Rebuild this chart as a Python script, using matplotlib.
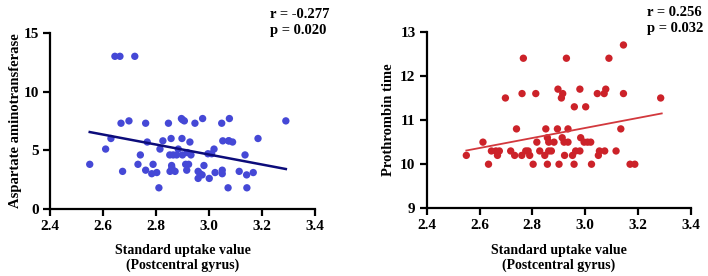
import numpy as np
import matplotlib.pyplot as plt

plt.rcParams['font.family'] = ['Liberation Serif', 'DejaVu Serif']
plt.rcParams['font.weight'] = 'bold'

# left panel: SUV vs aspartate aminotransferase
ast_x = [2.55, 2.61, 2.63, 2.645, 2.664, 2.668, 2.674, 2.698, 2.72, 2.732, 2.741,
         2.761, 2.761, 2.767, 2.784, 2.789, 2.803, 2.811, 2.815, 2.826, 2.847, 2.852,
         2.857, 2.859, 2.853, 2.865, 2.872, 2.878, 2.884, 2.896, 2.898, 2.90, 2.907,
         2.912, 2.916, 2.918, 2.923, 2.928, 2.932, 2.947, 2.959, 2.959, 2.966, 2.976,
         2.981, 2.974, 2.996, 3.001, 3.01, 3.019, 3.023, 3.048, 3.05, 3.052, 3.05,
         3.072, 3.074, 3.077, 3.089, 3.114, 3.136, 3.142, 3.143, 3.167, 3.185, 3.29,
         2.90, 2.86, 3.075]
ast_y = [3.8, 5.1, 6.0, 13.0, 13.0, 7.3, 3.2, 7.5, 13.0, 3.8, 4.6,
         7.3, 3.3, 5.7, 3.0, 3.8, 3.1, 1.8, 5.1, 5.8, 7.3, 4.6,
         6.0, 3.7, 3.2, 4.6, 3.2, 4.6, 5.1, 7.7, 6.0, 4.6, 7.5,
         3.8, 3.3, 4.8, 3.8, 5.7, 4.6, 7.3, 3.2, 2.6, 3.0, 7.7,
         3.7, 2.9, 4.7, 2.6, 4.7, 5.1, 3.1, 7.3, 3.3, 5.8, 3.0,
         1.8, 5.8, 7.7, 5.7, 3.2, 4.6, 2.9, 1.8, 3.1, 6.0, 7.5,
         7.6, 3.5, 5.8]
ast_fit_x = [2.55, 3.29]
ast_fit_y = [6.55, 3.4]

# right panel: SUV vs prothrombin time
pt_x = [2.55, 2.613, 2.634, 2.645, 2.662, 2.675, 2.668, 2.698, 2.718, 2.733, 2.74,
        2.76, 2.761, 2.766, 2.775, 2.784, 2.79, 2.803, 2.813, 2.817, 2.828, 2.847,
        2.851, 2.857, 2.857, 2.862, 2.862, 2.872, 2.882, 2.895, 2.897, 2.901, 2.91,
        2.915, 2.913, 2.92, 2.922, 2.929, 2.935, 2.935, 2.952, 2.958, 2.959, 2.964,
        2.98, 2.98, 2.983, 2.996, 3.009, 3.021, 3.002, 3.024, 3.05, 3.054, 3.046,
        3.072, 3.078, 3.074, 3.09, 3.117, 3.135, 3.145, 3.145, 3.17, 3.188, 3.286]
pt_y = [10.2, 10.5, 10.0, 10.3, 10.3, 10.3, 10.2, 11.5, 10.3, 10.2, 10.8,
        10.2, 11.6, 12.4, 10.3, 10.3, 10.2, 10.0, 11.6, 10.5, 10.3, 10.2,
        10.8, 10.0, 10.6, 10.5, 10.3, 10.3, 10.5, 10.8, 11.7, 10.0, 11.5,
        11.6, 10.6, 10.5, 10.2, 12.4, 10.8, 10.5, 10.2, 10.0, 11.3, 10.3,
        10.3, 11.7, 10.6, 10.5, 10.5, 10.5, 11.3, 10.0, 10.2, 10.3, 11.6,
        11.6, 11.7, 10.3, 12.4, 10.3, 10.8, 12.7, 11.6, 10.0, 10.0, 11.5]
pt_fit_x = [2.55, 3.29]
pt_fit_y = [10.31, 11.15]

x_ticks = [2.4, 2.6, 2.8, 3.0, 3.2, 3.4]
x_label = 'Standard uptake value\n(Postcentral gyrus)'


def style_axis(ax, yticks):
  ax.spines['top'].set_visible(False)
  ax.spines['right'].set_visible(False)
  for s in ('left', 'bottom'):
    ax.spines[s].set_linewidth(1.6)
  ax.set_xlim(2.4, 3.4)
  ax.set_xticks(x_ticks)
  ax.set_xticklabels(['%.1f' % t for t in x_ticks])
  ax.set_ylim(yticks[0], yticks[-1])
  ax.set_yticks(yticks)
  ax.tick_params(width=1.6, length=5, labelsize=11, pad=3)
  for lab in ax.get_xticklabels() + ax.get_yticklabels():
    lab.set_fontweight('bold')
  ax.set_xlabel(x_label, fontsize=10, fontweight='bold', labelpad=8,
                linespacing=1.15)


fig = plt.figure(figsize=(7.08, 2.76), dpi=100)

ax1 = fig.add_axes([0.0706, 0.243, 0.3743, 0.638])
ax1.scatter(ast_x, ast_y, s=28, color='#4548d6', edgecolors='none', zorder=3)
ax1.plot(ast_fit_x, ast_fit_y, color='#0c0c7a', lw=1.8, zorder=4)
style_axis(ax1, [0, 5, 10, 15])
ax1.set_ylabel('Aspartate aminotransferase', fontsize=10.5, fontweight='bold',
               labelpad=1)
fig.text(0.381, 0.972, 'r = -0.277\np = 0.020', ha='left', va='top',
         fontsize=10.5, fontweight='bold', linespacing=1.35)

ax2 = fig.add_axes([0.6027, 0.245, 0.373, 0.64])
ax2.scatter(pt_x, pt_y, s=28, color='#cc2229', edgecolors='none', zorder=3)
ax2.plot(pt_fit_x, pt_fit_y, color='#d2383d', lw=1.3, zorder=4)
style_axis(ax2, [9, 10, 11, 12, 13])
ax2.set_ylabel('Prothrombin time', fontsize=10.5, fontweight='bold', labelpad=4)
fig.text(0.914, 0.98, 'r = 0.256\np = 0.032', ha='left', va='top',
         fontsize=10.5, fontweight='bold', linespacing=1.35)

fig.savefig('out.png', dpi=100)
